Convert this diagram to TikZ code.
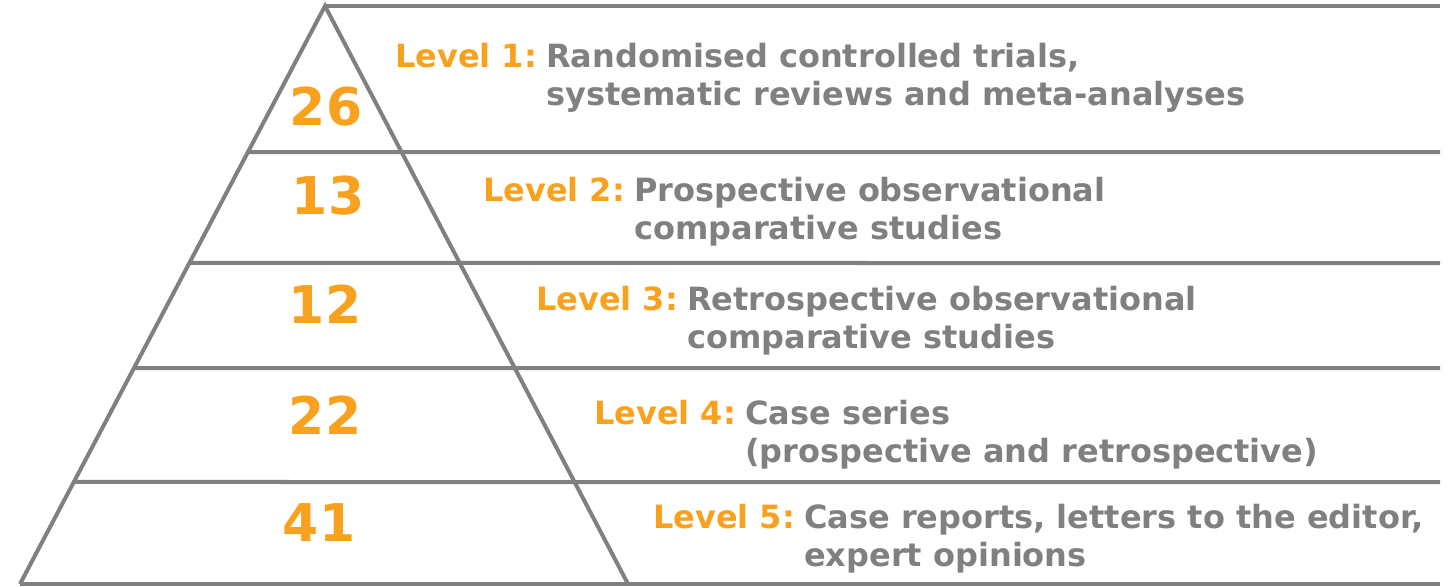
\documentclass[tikz,border=0pt]{standalone}
\usepackage{fontspec}
\setmainfont{DejaVu Sans}
\usetikzlibrary{calc}

\definecolor{levelorange}{HTML}{F7A11E}
\definecolor{levelgray}{HTML}{808080}

% tag + two lines of description
\newcommand{\leveltext}[3]{%
  \begin{tabular}[t]{@{}p{151pt}@{}l@{}}
    \textcolor{levelorange}{#1} & #2\\
    & #3
  \end{tabular}}

\begin{document}
\begin{tikzpicture}[
    x=1pt, y=-1pt,
    edge/.style={draw=levelgray, line width=4pt},
    count/.style={anchor=base, inner sep=0pt, text=levelorange, font=\fontsize{52}{60}\selectfont\bfseries},
    level/.style={anchor=base west, inner sep=0pt, text=levelgray, font=\fontsize{32}{38}\selectfont\bfseries},
    ]

\useasboundingbox (0,0) rectangle (1450,586);

% Pyramide
\coordinate (apex) at (325,6);
\coordinate (bl) at (20,584);
\coordinate (br) at (628,584);
\draw[edge] (bl) -- (apex) -- (br);

% Lignes horizontales
\draw[edge] (apex) -- (1440,6);
\foreach \y in {152,263,368,482,584} {
  \pgfmathsetmacro\t{(\y-6)/578}
  \draw[edge] ($(apex)!\t!(bl)$) -- (1440,\y);
}

% Nombres
\node[count] (n1) at (326,125) {26};
\node[count] (n2) at (328,214) {13};
\node[count] (n3) at (325,323) {12};
\node[count] (n4) at (325,434) {22};
\node[count] (n5) at (319,541) {41};

% Niveaux
\node[level] (lvl1) at (395,67) {\leveltext{Level 1:}{Randomised controlled trials,}{systematic reviews and meta-analyses}};
\node[level] (lvl2) at (483,201) {\leveltext{Level 2:}{Prospective observational}{comparative studies}};
\node[level] (lvl3) at (536,310) {\leveltext{Level 3:}{Retrospective observational}{comparative studies}};
\node[level] (lvl4) at (594,424) {\leveltext{Level 4:}{Case series}{(prospective and retrospective)}};
\node[level] (lvl5) at (653,528) {\leveltext{Level 5:}{Case reports, letters to the editor,}{expert opinions}};

\end{tikzpicture}
\end{document}
